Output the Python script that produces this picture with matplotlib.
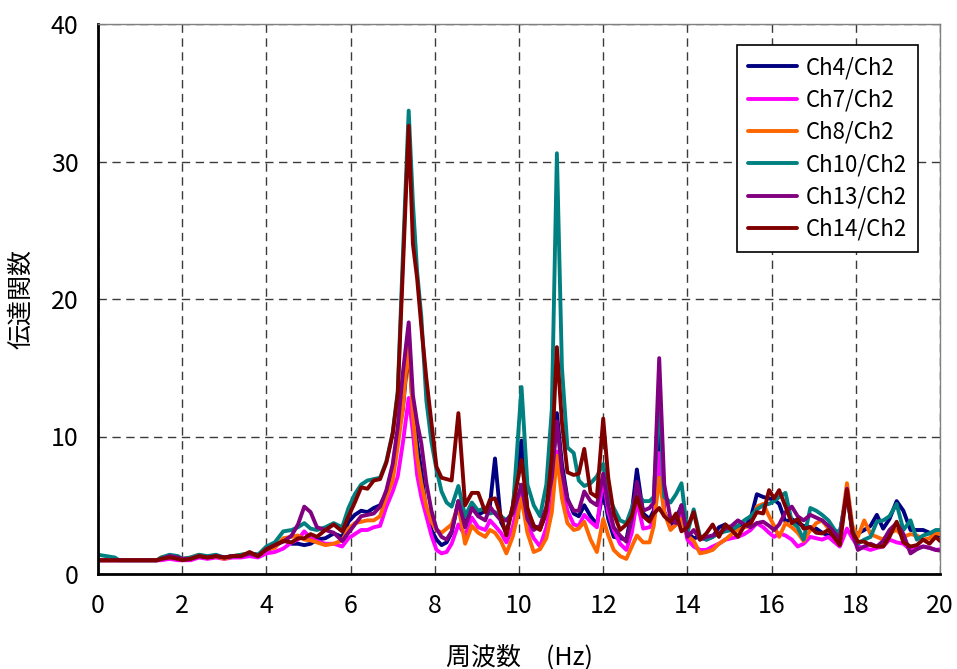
import matplotlib
matplotlib.use("Agg")
import matplotlib.pyplot as plt

plt.rcParams['font.family'] = ['Noto Sans CJK JP', 'DejaVu Sans']

# Frequency grid (Hz)
freq = [
    0, 0.2, 0.4, 0.5, 1.4, 1.5, 1.7, 1.9, 2.0, 2.2, 2.4, 2.6, 2.8, 3.0, 3.2, 3.4, 3.6, 3.8, 4.0,
    4.2, 4.4, 4.6, 4.75, 4.9, 5.05, 5.2, 5.4, 5.6, 5.8, 5.95, 6.1, 6.25, 6.4, 6.55, 6.7, 6.85, 7.0, 7.12, 7.24,
    7.38, 7.48, 7.58, 7.68, 7.8, 7.92, 8.04, 8.16, 8.28, 8.4,
    8.56, 8.72, 8.88, 9.03, 9.2, 9.31, 9.43, 9.57, 9.7, 9.85,
    10.06, 10.2, 10.35, 10.5, 10.65, 10.78, 10.9, 11.02, 11.15, 11.3,
    11.42, 11.55, 11.7, 11.85, 12.0, 12.12, 12.25, 12.4, 12.55, 12.68,
    12.8, 12.95, 13.1, 13.2, 13.33, 13.45, 13.6, 13.73, 13.86, 14.0, 14.15,
    14.3, 14.45, 14.6, 14.75, 14.9, 15.05, 15.2, 15.35, 15.5, 15.65,
    15.8, 15.94, 16.06, 16.18, 16.33, 16.48, 16.62, 16.76, 16.92, 17.06,
    17.2, 17.35, 17.5, 17.62, 17.79, 17.92, 18.05, 18.2, 18.35, 18.5,
    18.65, 18.8, 18.97, 19.13, 19.3, 19.45, 19.6, 19.75, 19.9, 20.0,
]

ch4 = [
    1.0, 1.0, 1.0, 1.0, 1.0, 1.1, 1.2, 1.1, 1.1, 1.1, 1.3, 1.2, 1.3, 1.2, 1.3, 1.3, 1.5, 1.4, 1.7,
    2.0, 2.5, 2.2, 2.2, 2.1, 2.2, 2.5, 2.6, 2.95, 2.7, 3.8, 4.3, 4.6, 4.5, 4.8, 5.0, 5.9, 7.5, 10.0, 12.0,
    16.5, 12.0, 9.5, 7.5, 4.4, 3.2, 2.5, 2.1, 2.3, 3.0,
    5.3, 3.5, 5.0, 4.3, 4.6, 5.0, 8.4, 3.8, 3.0, 4.9,
    9.7, 4.5, 3.5, 3.3, 4.4, 7.0, 11.7, 8.0, 5.5, 4.4,
    4.2, 5.0, 4.2, 3.6, 6.1, 4.0, 2.7, 2.6, 2.5, 4.5,
    7.6, 4.4, 4.0, 4.6, 11.0, 4.5, 3.5, 4.0, 5.0, 3.0, 2.6,
    2.7, 2.5, 2.7, 3.4, 3.6, 3.2, 3.5, 3.4, 4.0, 5.8,
    5.6, 5.5, 5.4, 5.1, 3.8, 4.0, 3.7, 3.5, 3.4, 3.3,
    3.0, 2.8, 2.9, 3.0, 5.9, 3.0, 2.95, 3.2, 3.5, 4.3,
    3.3, 4.0, 5.3, 4.6, 3.2, 3.2, 3.2, 3.0, 2.7, 2.8,
]

ch7 = [
    1.0, 1.0, 1.0, 1.0, 1.0, 1.0, 1.1, 1.0, 1.0, 1.0, 1.2, 1.1, 1.2, 1.1, 1.2, 1.2, 1.3, 1.2, 1.5,
    1.6, 1.85, 2.3, 2.5, 3.1, 2.6, 2.4, 2.2, 2.2, 2.0, 2.6, 2.9, 3.2, 3.2, 3.4, 3.5, 4.9, 6.0, 7.1, 9.5,
    12.8, 10.3, 7.2, 5.6, 4.2, 2.8, 1.75, 1.5, 1.6, 2.2,
    3.6, 2.8, 4.1, 3.4, 3.2, 3.9, 3.5, 3.0, 2.3, 3.4,
    6.4, 3.6, 2.6, 2.0, 3.4, 5.5, 8.9, 6.5, 4.6, 3.6,
    3.5, 4.3, 3.8, 3.4, 7.1, 4.5, 3.2, 2.2, 1.75, 3.0,
    5.3, 3.3, 3.4, 3.8, 8.8, 4.5, 3.3, 3.6, 4.6, 2.5, 2.0,
    1.75, 1.75, 2.0, 2.2, 2.5, 2.6, 2.7, 2.9, 3.2, 3.7,
    3.4, 3.0, 2.7, 2.95, 2.8, 2.5, 2.0, 2.2, 2.7, 2.6,
    2.5, 2.7, 2.3, 2.0, 3.3, 2.6, 2.0, 1.9, 1.75, 1.9,
    2.0, 2.5, 2.3, 2.2, 1.75, 1.9, 2.0, 1.9, 1.75, 1.8,
]

ch8 = [
    1.0, 1.0, 1.0, 1.0, 1.0, 1.2, 1.3, 1.2, 1.1, 1.2, 1.4, 1.2, 1.3, 1.1, 1.3, 1.4, 1.5, 1.3, 1.8,
    1.9, 2.6, 2.7, 2.8, 2.5, 2.45, 2.3, 2.1, 2.2, 2.45, 3.3, 3.7, 3.8, 3.9, 3.9, 4.2, 5.6, 6.8, 9.3, 12.0,
    17.0, 11.5, 8.5, 6.6, 4.9, 3.8, 3.2, 3.0, 3.3, 3.6,
    5.0, 2.2, 3.5, 3.0, 2.7, 3.2, 3.0, 2.4, 1.5, 2.7,
    5.5, 3.0, 1.6, 1.8, 2.6, 4.5, 8.6, 5.5, 3.7, 3.2,
    3.3, 3.8, 2.5, 1.6, 4.0, 2.8, 1.75, 1.3, 1.1, 2.0,
    2.8, 2.3, 2.3, 3.5, 7.0, 4.5, 3.2, 3.6, 4.0, 2.8, 2.4,
    1.5, 1.6, 1.75, 2.2, 2.5, 2.9, 3.2, 3.4, 3.5, 4.9,
    5.1, 4.2, 3.5, 2.7, 3.7, 3.4, 3.0, 2.4, 3.2, 3.7,
    3.9, 3.3, 3.0, 2.7, 6.6, 3.5, 2.7, 3.9, 2.9, 2.7,
    2.5, 3.0, 3.2, 2.7, 2.9, 2.8, 2.5, 2.6, 2.95, 2.9,
]

ch10 = [
    1.4, 1.3, 1.2, 1.0, 1.0, 1.2, 1.4, 1.3, 1.1, 1.2, 1.4, 1.3, 1.4, 1.2, 1.3, 1.4, 1.5, 1.4, 2.0,
    2.3, 3.1, 3.2, 3.4, 3.7, 3.3, 3.2, 3.4, 3.7, 3.4, 4.8, 5.8, 6.5, 6.8, 6.9, 7.0, 8.2, 10.3, 13.3, 23.0,
    33.7, 27.0, 22.0, 18.7, 12.6, 9.6, 7.6, 6.0, 5.2, 4.9,
    6.4, 4.2, 5.2, 4.6, 4.8, 4.4, 4.5, 4.2, 3.9, 4.5,
    13.6, 6.5, 5.0, 4.2, 6.5, 12.0, 30.6, 15.0, 9.2, 8.8,
    6.8, 6.4, 6.6, 7.1, 8.0, 5.7, 4.8, 3.9, 3.7, 4.8,
    6.0, 5.3, 5.3, 5.6, 12.9, 5.6, 5.2, 5.8, 6.6, 3.0, 4.7,
    2.7, 2.5, 2.7, 2.95, 3.1, 3.2, 3.5, 3.9, 4.2, 4.7,
    5.0, 5.1, 5.3, 5.6, 5.9, 3.8, 3.4, 2.5, 4.8, 4.6,
    4.3, 3.9, 3.2, 3.0, 5.9, 3.2, 2.2, 2.5, 2.7, 3.8,
    3.9, 4.2, 5.1, 3.2, 3.9, 2.5, 2.8, 2.95, 3.2, 3.2,
]

ch13 = [
    1.0, 1.0, 1.0, 1.0, 1.0, 1.1, 1.3, 1.2, 1.1, 1.1, 1.3, 1.2, 1.3, 1.2, 1.3, 1.3, 1.5, 1.3, 1.8,
    2.1, 2.35, 2.8, 3.6, 4.9, 4.5, 3.4, 3.2, 3.0, 2.4, 3.0, 3.6, 4.2, 4.3, 4.4, 4.9, 6.1, 8.0, 10.7, 14.6,
    18.3, 13.0, 11.0, 9.5, 6.6, 4.6, 3.3, 2.7, 2.5, 3.1,
    5.3, 3.4, 4.8, 4.2, 3.9, 4.9, 4.4, 3.9, 3.9, 4.4,
    6.5, 4.0, 3.2, 3.5, 4.9, 7.0, 11.1, 7.5, 5.4, 4.6,
    4.6, 6.0, 5.3, 5.0, 7.3, 5.0, 3.4, 2.8, 2.35, 4.0,
    6.7, 4.6, 4.8, 5.2, 15.7, 6.5, 4.0, 3.7, 5.0, 2.7, 3.2,
    2.5, 2.7, 2.8, 2.95, 3.3, 3.5, 3.9, 3.6, 3.4, 3.7,
    3.8, 3.5, 3.2, 3.6, 4.5, 4.9, 4.2, 3.9, 4.3, 4.1,
    3.9, 3.5, 3.0, 2.5, 6.2, 3.0, 1.75, 2.0, 2.2, 2.0,
    2.4, 3.2, 3.7, 2.9, 1.5, 1.8, 2.0, 1.9, 1.75, 1.7,
]

ch14 = [
    1.0, 1.0, 1.0, 1.0, 1.0, 1.1, 1.2, 1.1, 1.0, 1.1, 1.3, 1.2, 1.3, 1.2, 1.3, 1.3, 1.6, 1.3, 1.8,
    2.1, 2.4, 2.3, 2.6, 2.6, 2.9, 2.7, 3.2, 3.6, 3.1, 4.2, 5.2, 6.3, 6.2, 6.8, 6.9, 8.1, 10.2, 13.1, 22.0,
    32.6, 24.0, 21.5, 18.0, 14.2, 11.0, 7.8, 7.0, 6.9, 6.8,
    11.7, 5.0, 5.9, 5.9, 4.5, 5.4, 5.5, 4.2, 2.8, 4.9,
    8.3, 4.8, 3.5, 3.2, 4.6, 8.5, 16.5, 11.0, 7.4, 7.2,
    7.3, 9.1, 5.9, 5.6, 11.3, 7.0, 4.4, 3.2, 3.6, 4.2,
    5.6, 4.2, 3.8, 4.4, 4.8, 4.2, 3.8, 4.4, 3.1, 3.4, 4.5,
    2.5, 2.95, 3.6, 2.7, 3.6, 3.2, 2.7, 3.5, 3.7, 4.5,
    4.4, 6.1, 5.5, 6.1, 4.9, 3.7, 4.0, 3.3, 3.4, 3.0,
    2.95, 3.2, 2.6, 2.1, 6.1, 3.0, 2.35, 2.35, 2.1, 2.0,
    2.0, 2.7, 3.8, 2.3, 2.0, 2.1, 2.5, 2.2, 2.7, 2.4,
]

series_labels = ['Ch4/Ch2', 'Ch7/Ch2', 'Ch8/Ch2', 'Ch10/Ch2', 'Ch13/Ch2', 'Ch14/Ch2']
series_values = [ch4, ch7, ch8, ch10, ch13, ch14]
series_colors = ['#000080', '#FF00FF', '#FF6600', '#008080', '#800080', '#800000']

x_ticks = [0, 2, 4, 6, 8, 10, 12, 14, 16, 18, 20]
y_ticks = [0, 10, 20, 30, 40]

fig = plt.figure(figsize=(9.57, 6.69), dpi=100)
ax = fig.add_axes([98/957, 1 - 574/669, (940-98)/957, (574-24)/669])

for vals, lab, col in zip(series_values, series_labels, series_colors):
    ax.plot(freq, vals, color=col, lw=2.8, label=lab,
            solid_joinstyle='round', solid_capstyle='round')

ax.set_xlim(0, 20)
ax.set_ylim(0, 40)
ax.set_xticks(x_ticks)
ax.set_yticks(y_ticks)
ax.tick_params(axis='both', labelsize=18, length=0)
ax.tick_params(axis='x', pad=14)
ax.tick_params(axis='y', pad=14)

ax.grid(True, color='#3a3a3a', linestyle=(0, (6, 4)), linewidth=1.0)
ax.set_axisbelow(True)

for s in ['left', 'bottom']:
    ax.spines[s].set_color('black')
    ax.spines[s].set_linewidth(2.0)
for s in ['right', 'top']:
    ax.spines[s].set_color('#808080')
    ax.spines[s].set_linewidth(1.0)

ax.set_xlabel('周波数　(Hz)', fontsize=18, labelpad=18)
ax.set_ylabel('伝達関数', fontsize=18, labelpad=12)

leg = ax.legend(loc='upper right', bbox_to_anchor=(0.974, 0.962), borderaxespad=0,
                fontsize=16, frameon=True, fancybox=False, edgecolor='black',
                framealpha=1.0, handlelength=2.2, handletextpad=0.4,
                labelspacing=0.42, borderpad=0.5)
leg.get_frame().set_linewidth(1.2)

fig.savefig('out.png', dpi=100)
